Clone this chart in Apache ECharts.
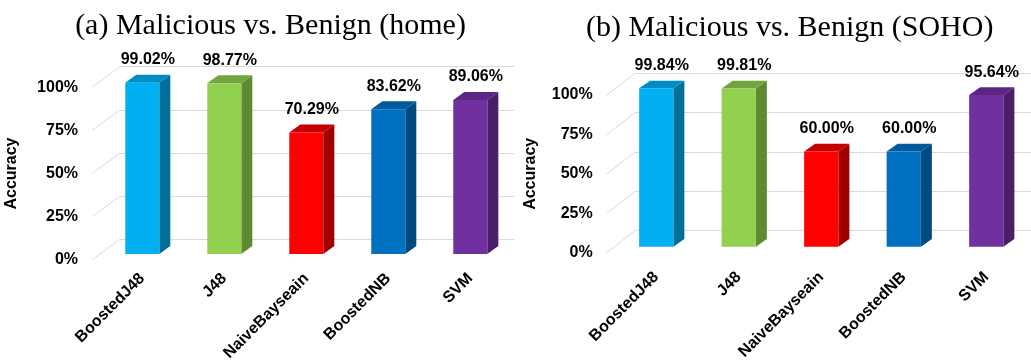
<!DOCTYPE html>
<html>
<head>
<meta charset="utf-8">
<script src="https://cdn.jsdelivr.net/npm/echarts@6/dist/echarts.min.js"></script>
<style>
  html, body { margin: 0; padding: 0; background: #fff; }
  #chart { width: 1031px; height: 364px; }
</style>
</head>
<body>
<div id="chart"></div>
<script>
// Classifier accuracy, two network settings
const categories = ['BoostedJ48', 'J48', 'NaiveBayseain', 'BoostedNB', 'SVM'];
const homeAccuracy = [99.02, 98.77, 70.29, 83.62, 89.06];
const sohoAccuracy = [99.84, 99.81, 60.00, 60.00, 95.64];
const accuracyTicks = [0, 25, 50, 75, 100];
const panelTitles = ['(a) Malicious vs. Benign (home)', '(b) Malicious vs. Benign (SOHO)'];

// face shades of each 3D bar: front, top, side
const barColors = [
  { front: '#00B0F0', top: '#008CC4', side: '#006F9A' },
  { front: '#92D050', top: '#72A53F', side: '#5E8A32' },
  { front: '#FF0000', top: '#C40000', side: '#A00000' },
  { front: '#0070C0', top: '#005A9C', side: '#004A7F' },
  { front: '#7030A0', top: '#5A2682', side: '#4A1F68' }
];

const GRID_COLOR = '#d9d9d9';
const LABEL_FONT = 'Liberation Sans';
const LABEL_SIZE = 16;

// layout of each panel: back wall, bar plane, and the front edge where tick labels sit
const panels = [
  {
    values: homeAccuracy,
    back:  { left: 120, right: 517, top: 66.7, bottom: 124.7 },
    front: { left: 101.3, right: 519.7, top: 81, bottom: 110 },
    edge:  { left: 92, right: 517, top: 87.2, bottom: 104.2 },
    floor: [28, 20.5],     // offset from back wall to front edge
    depth: [11, 8],        // bar depth
    catMargin: 22,
    nameGap: 72,
    titleX: 265.5, titleY: 6
  },
  {
    values: sohoAccuracy,
    back:  { left: 635, right: 0, top: 73.3, bottom: 133.3 },
    front: { left: 615, right: 3.5, top: 88.1, bottom: 117.3 },
    edge:  { left: 606.7, right: 0, top: 95, bottom: 111.3 },
    floor: [28.3, 22],
    depth: [11, 7.7],
    catMargin: 28,
    nameGap: 68,
    titleX: 784.7, titleY: 8
  }
];

function barRenderer(depth) {
  const dx = depth[0], dy = depth[1];
  return function (params, api) {
    const i = api.value(0);
    const v = api.value(1);
    const base = api.coord([i, 0]);
    const top = api.coord([i, v]);
    const w = api.size([1, 0])[0] * 0.415;
    const x0 = base[0] - w / 2, x1 = x0 + w;
    const c = barColors[i];
    return {
      type: 'group',
      children: [
        {
          type: 'polygon',
          shape: { points: [[x1, top[1]], [x1 + dx, top[1] - dy], [x1 + dx, base[1] - dy], [x1, base[1]]] },
          style: { fill: c.side }
        },
        {
          type: 'polygon',
          shape: { points: [[x0, top[1]], [x0 + dx, top[1] - dy], [x1 + dx, top[1] - dy], [x1, top[1]]] },
          style: { fill: c.top }
        },
        {
          type: 'rect',
          shape: { x: x0, y: top[1], width: w, height: base[1] - top[1] },
          style: { fill: c.front }
        },
        {
          type: 'text',
          style: {
            text: v.toFixed(2) + '%',
            x: (x0 + x1 + dx) / 2,
            y: top[1] - dy - 15,
            align: 'center',
            verticalAlign: 'middle',
            fontFamily: LABEL_FONT,
            fontWeight: 'bold',
            fontSize: LABEL_SIZE,
            fill: '#000'
          }
        }
      ]
    };
  };
}

function floorRenderer(offset) {
  return function (params, api) {
    const p = api.coord([0, api.value(0)]);
    return {
      type: 'line',
      shape: { x1: p[0], y1: p[1], x2: p[0] - offset[0], y2: p[1] + offset[1] },
      style: { stroke: GRID_COLOR, lineWidth: 1 }
    };
  };
}

const grid = [], xAxis = [], yAxis = [], series = [], title = [];

panels.forEach((p, k) => {
  const gBack = grid.length, gFront = gBack + 1, gEdge = gBack + 2;
  [p.back, p.front, p.edge].forEach(g => grid.push(Object.assign({ containLabel: false, outerBoundsMode: 'none' }, g)));

  // back wall with horizontal gridlines
  xAxis.push({ gridIndex: gBack, type: 'value', min: 0, max: 1, show: false });
  yAxis.push({
    gridIndex: gBack, type: 'value', min: 0, max: 100, interval: 25,
    axisLine: { show: false }, axisTick: { show: false }, axisLabel: { show: false },
    splitLine: { show: true, lineStyle: { color: GRID_COLOR, width: 1 } }
  });

  // bar plane
  xAxis.push({
    gridIndex: gFront, type: 'category', data: categories,
    axisLine: { show: false }, axisTick: { show: false },
    axisLabel: {
      interval: 0, rotate: 45, margin: p.catMargin,
      fontFamily: LABEL_FONT, fontWeight: 'bold', fontSize: LABEL_SIZE, color: '#000'
    }
  });
  yAxis.push({ gridIndex: gFront, type: 'value', min: 0, max: 100, show: false });

  // front edge: tick labels and axis title
  xAxis.push({ gridIndex: gEdge, type: 'value', min: 0, max: 1, show: false });
  yAxis.push({
    gridIndex: gEdge, type: 'value', min: 0, max: 100, interval: 25,
    axisLine: { show: false }, axisTick: { show: false }, splitLine: { show: false },
    axisLabel: {
      margin: 14, formatter: '{value}%',
      fontFamily: LABEL_FONT, fontWeight: 'bold', fontSize: LABEL_SIZE, color: '#000'
    },
    name: 'Accuracy', nameLocation: 'middle', nameGap: p.nameGap,
    nameTextStyle: { fontFamily: LABEL_FONT, fontWeight: 'bold', fontSize: LABEL_SIZE, color: '#000' }
  });

  series.push({
    type: 'custom', xAxisIndex: gBack, yAxisIndex: gBack,
    renderItem: floorRenderer(p.floor),
    data: accuracyTicks.map(t => [t]),
    encode: { y: 0 }, silent: true, z: 1
  });
  series.push({
    type: 'custom', xAxisIndex: gFront, yAxisIndex: gFront,
    renderItem: barRenderer(p.depth),
    data: p.values.map((v, i) => [i, v]),
    encode: { x: 0, y: 1 }, z: 3
  });

  title.push({
    text: panelTitles[k], left: p.titleX, top: p.titleY, textAlign: 'center',
    textStyle: { fontFamily: 'Liberation Serif', fontWeight: 'normal', fontSize: 30, color: '#000' }
  });
});

const chart = echarts.init(document.getElementById('chart'), null, { renderer: 'canvas' });
chart.setOption({
  animation: false,
  backgroundColor: '#fff',
  title, grid, xAxis, yAxis, series
});
</script>
</body>
</html>
